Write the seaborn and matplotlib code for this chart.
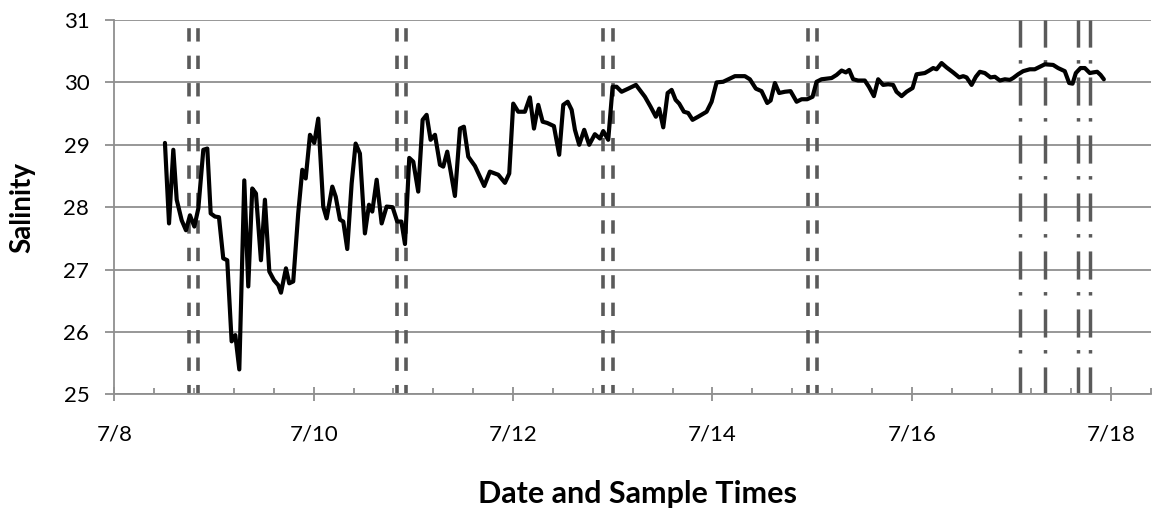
"""
Salinity record with grab-sample times, 7/8 - 7/18.
"""

import matplotlib

matplotlib.use("Agg")
import matplotlib.pyplot as plt
import pandas as pd
import seaborn as sns

START = pd.Timestamp("2013-07-08")

# ── Data ──────────────────────────────────────────────────────────────

# salinity trace, time in days after 7/8 00:00
sample_day = [
    0.508, 0.549, 0.592, 0.626, 0.676, 0.719, 0.759, 0.803, 0.843, 0.893,
    0.933, 0.967, 1.010, 1.050, 1.093, 1.133, 1.177, 1.214, 1.254, 1.304,
    1.344, 1.384, 1.421, 1.471, 1.511, 1.555, 1.602, 1.645, 1.672, 1.722,
    1.755, 1.795, 1.845, 1.886, 1.920, 1.963, 2.006, 2.046, 2.096, 2.130,
    2.187, 2.221, 2.264, 2.297, 2.337, 2.381, 2.421, 2.464, 2.514, 2.555,
    2.588, 2.632, 2.682, 2.732, 2.792, 2.838, 2.880, 2.916, 2.959, 2.999,
    3.049, 3.093, 3.133, 3.173, 3.217, 3.267, 3.300, 3.340, 3.417, 3.468,
    3.507, 3.551, 3.618, 3.668, 3.711, 3.768, 3.852, 3.919, 3.962, 4.002,
    4.052, 4.119, 4.169, 4.210, 4.253, 4.297, 4.343, 4.410, 4.463, 4.504,
    4.548, 4.588, 4.621, 4.664, 4.714, 4.764, 4.821, 4.872, 4.905, 4.955,
    4.999, 5.039, 5.089, 5.156, 5.233, 5.323, 5.380, 5.433, 5.466, 5.507,
    5.551, 5.591, 5.631, 5.667, 5.714, 5.757, 5.801, 5.857, 5.942, 5.992,
    6.042, 6.108, 6.226, 6.326, 6.376, 6.436, 6.493, 6.550, 6.584, 6.627,
    6.670, 6.727, 6.784, 6.845, 6.895, 6.951, 7.005, 7.045, 7.095, 7.196,
    7.246, 7.296, 7.339, 7.372, 7.412, 7.462, 7.529, 7.570, 7.620, 7.663,
    7.713, 7.763, 7.813, 7.847, 7.898, 7.948, 8.008, 8.048, 8.131, 8.175,
    8.215, 8.249, 8.299, 8.349, 8.415, 8.476, 8.516, 8.550, 8.600, 8.643,
    8.683, 8.733, 8.790, 8.834, 8.884, 8.934, 8.984, 9.017, 9.067, 9.117,
    9.184, 9.234, 9.284, 9.335, 9.418, 9.468, 9.535, 9.579, 9.613, 9.646,
    9.693, 9.736, 9.786, 9.819, 9.860, 9.894, 9.927,
]
salinity = [
    29.03, 27.74, 28.92, 28.12, 27.79, 27.63, 27.87, 27.69, 27.98, 28.92,
    28.94, 27.90, 27.85, 27.84, 27.18, 27.15, 25.85, 25.95, 25.40, 28.43,
    26.73, 28.30, 28.22, 27.15, 28.12, 26.97, 26.83, 26.75, 26.63, 27.02,
    26.78, 26.81, 27.90, 28.60, 28.46, 29.16, 29.03, 29.42, 28.01, 27.82,
    28.33, 28.17, 27.80, 27.77, 27.33, 28.38, 29.02, 28.86, 27.58, 28.04,
    27.93, 28.44, 27.74, 28.01, 28.00, 27.77, 27.77, 27.41, 28.79, 28.73,
    28.25, 29.40, 29.48, 29.08, 29.16, 28.68, 28.65, 28.89, 28.18, 29.26,
    29.29, 28.81, 28.66, 28.49, 28.34, 28.57, 28.52, 28.39, 28.54, 29.66,
    29.53, 29.53, 29.76, 29.26, 29.64, 29.37, 29.35, 29.30, 28.84, 29.64,
    29.69, 29.56, 29.24, 29.00, 29.24, 29.00, 29.17, 29.10, 29.22, 29.08,
    29.93, 29.93, 29.85, 29.90, 29.96, 29.77, 29.61, 29.45, 29.58, 29.28,
    29.83, 29.88, 29.72, 29.66, 29.53, 29.51, 29.40, 29.45, 29.53, 29.69,
    30.00, 30.01, 30.10, 30.10, 30.05, 29.90, 29.86, 29.67, 29.71, 29.99,
    29.83, 29.85, 29.86, 29.69, 29.73, 29.73, 29.77, 30.01, 30.05, 30.07,
    30.12, 30.19, 30.16, 30.20, 30.05, 30.03, 30.03, 29.93, 29.78, 30.05,
    29.96, 29.97, 29.96, 29.85, 29.78, 29.85, 29.91, 30.13, 30.15, 30.19,
    30.23, 30.21, 30.31, 30.24, 30.16, 30.08, 30.10, 30.08, 29.96, 30.09,
    30.17, 30.15, 30.08, 30.09, 30.03, 30.05, 30.04, 30.07, 30.13, 30.18,
    30.21, 30.21, 30.25, 30.29, 30.28, 30.23, 30.18, 29.99, 29.98, 30.15,
    30.23, 30.23, 30.15, 30.16, 30.17, 30.12, 30.05,
]

# grab-sample times (days after 7/8), pairs of dashed lines then dash-dot lines
dashed_day = [0.752, 0.837, 2.836, 2.923, 4.905, 4.999, 6.961, 7.045]
dashdot_day = [9.084, 9.335, 9.669, 9.793]

tick_day = [0, 2, 4, 6, 8, 10]
tick_labels = ["7/8", "7/10", "7/12", "7/14", "7/16", "7/18"]
y_ticks = [25, 26, 27, 28, 29, 30, 31]

# ── Style ─────────────────────────────────────────────────────────────

sns.set_style("white")
plt.rcParams["font.family"] = ["Lato", "DejaVu Sans"]

GRID = "#8f8f8f"
SAMPLE = "#5a5a5a"


def day(d):
    return START + pd.Timedelta(days=d)


df = pd.DataFrame(
    {"time": START + pd.to_timedelta(sample_day, unit="D"), "salinity": salinity}
)

fig = plt.figure(figsize=(11.54, 5.12), dpi=100)
ax = fig.add_axes([114.3 / 1154, (512 - 394.4) / 512, (1151 - 114.3) / 1154, 374.4 / 512])

sns.lineplot(
    data=df, x="time", y="salinity", color="black", linewidth=3.0,
    solid_joinstyle="round", ax=ax, zorder=3,
)

# dash lengths are in line-width units
for d in dashed_day:
    ax.axvline(day(d), color=SAMPLE, linewidth=2.6, linestyle=(1.2, (3.7, 3.9)), zorder=2)
for d in dashdot_day:
    ax.axvline(day(d), color=SAMPLE, linewidth=2.5, linestyle=(0.3, (8.1, 4.0, 1.0, 3.6)), zorder=2)

ax.set_xlim(day(0), day(10.4))
ax.set_ylim(25, 31)
ax.set_yticks(y_ticks)
ax.set_xticks([day(d) for d in tick_day])
ax.set_xticklabels(tick_labels)
ax.set_xticks([day(0.4 * i) for i in range(27)], minor=True)

ax.yaxis.grid(True, color=GRID, linewidth=1.3)
ax.xaxis.grid(False)
for side in ["top", "right"]:
    ax.spines[side].set_visible(False)
for side in ["left", "bottom"]:
    ax.spines[side].set_color(GRID)
    ax.spines[side].set_linewidth(1.3)

ax.tick_params(axis="y", direction="out", length=6.5, width=1.3, color=GRID,
               labelsize=16, labelcolor="black", pad=11.5, left=True)
ax.tick_params(axis="x", which="major", direction="inout", length=10, width=1.3,
               color=GRID, labelsize=16, labelcolor="black", pad=17, bottom=True)
ax.tick_params(axis="x", which="minor", direction="in", length=4.3, width=1.3,
               color=GRID, bottom=True)

ax.set_xlabel("Date and Sample Times", fontsize=22, fontweight="bold", color="black")
ax.set_ylabel("Salinity", fontsize=20, fontweight="bold", color="black")
ax.xaxis.set_label_coords(0.5047, -0.228)
ax.yaxis.set_label_coords(-0.076, 0.5)

fig.savefig("out.png", dpi=100)
plt.close(fig)
